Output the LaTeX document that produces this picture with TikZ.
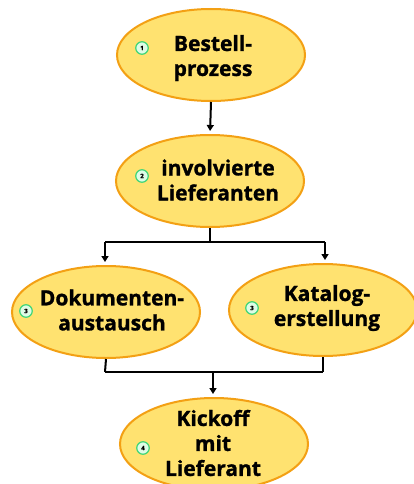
\documentclass[tikz,border=0pt]{standalone}
\usepackage{fontspec}
\setmainfont{Open Sans}[BoldFeatures={FakeBold=1.2}]
\usetikzlibrary{shapes.geometric,arrows.meta}
\definecolor{efill}{RGB}{255,226,112}
\definecolor{edraw}{RGB}{243,160,20}
\definecolor{cfill}{RGB}{222,252,230}
\definecolor{cdraw}{RGB}{64,214,120}
\tikzset{
  oval/.style={ellipse, draw=edraw, fill=efill, line width=2pt, minimum width=188pt, minimum height=92pt, inner sep=0pt},
  lbl/.style={inner sep=0pt, align=center, font=\fontsize{21}{25}\selectfont\bfseries},
  num/.style={circle, draw=cdraw, fill=cfill, line width=1.2pt, minimum size=12.5pt, inner sep=0pt, font=\fontsize{6}{6}\selectfont\bfseries},
  conn/.style={line width=2pt, black},
  arr/.style={conn, -{Triangle[length=6pt,width=7pt]}, shorten >=3pt}
}
\begin{document}
\begin{tikzpicture}[x=1pt,y=-1pt]
\useasboundingbox (0,0) rectangle (414,484);
\fill[white] (0,0) rectangle (414,484);
\clip (0,0) rectangle (414,484);
\node[oval] (n1) at (211,55) {};
\node[oval] (n2) at (210,181) {};
\node[oval] (n3l) at (106,312) {};
\node[oval] (n3r) at (323,310) {};
\node[oval] (n4) at (214,444) {};
\node[lbl] (t1) at (213,58) {Bestell-\\prozess};
\node[lbl] (t2) at (218,180) {involvierte\\Lieferanten};
\node[lbl] (t3l) at (112,310) {Dokumenten-\\austausch};
\node[lbl] (t3r) at (327,308) {Katalog-\\erstellung};
\node[lbl] (t4) at (213,443) {Kickoff\\mit\\Lieferant};
\node[num] (c1) at (142,48) {1};
\node[num] (c2) at (142,176) {2};
\node[num] (c3l) at (26,311) {3};
\node[num] (c3r) at (252,308) {3};
\node[num] (c4) at (143,448) {4};
\coordinate (s1) at (210,242);
\coordinate (bl) at (105,242);
\coordinate (br) at (325,242);
\coordinate (ml) at (105,372);
\coordinate (mr) at (323,372);
\coordinate (mm) at (213,372);
\draw[arr] (n1.south) -- (n2.north);
\draw[conn] (n2.south) -- (s1);
\draw[conn] (bl) -- (br);
\draw[arr] (bl) -- (bl |- n3l.north);
\draw[arr] (br) -- (br |- n3r.north);
\draw[conn] (n3l.south) -- (ml);
\draw[conn] (n3r.south) -- (mr);
\draw[conn] (ml) -- (mr);
\draw[arr] (mm) -- (mm |- n4.north);
\end{tikzpicture}
\end{document}
